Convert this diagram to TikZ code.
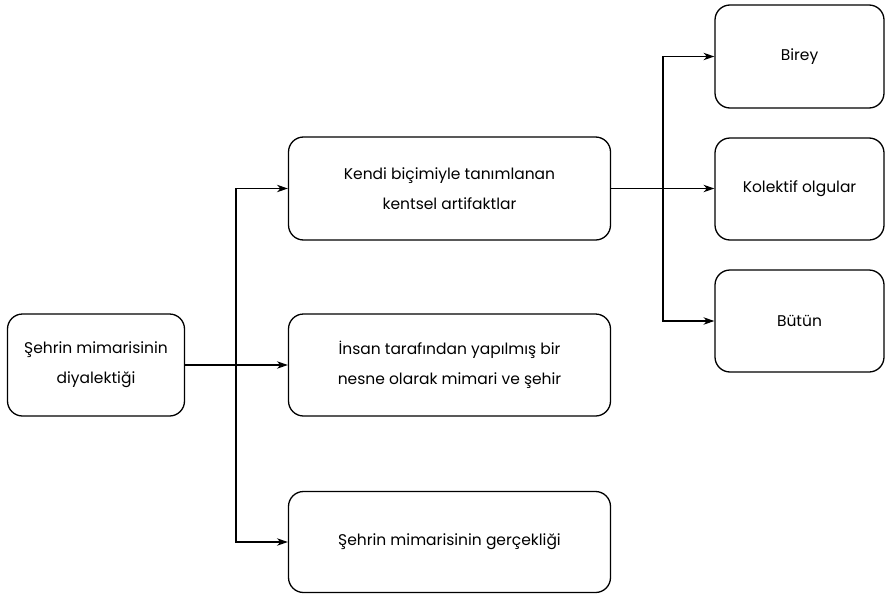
\documentclass[tikz,border=0pt]{standalone}
\usepackage{fontspec}
\setmainfont{Poppins}
\usetikzlibrary{arrows.meta}
\begin{document}
\begin{tikzpicture}[x=1pt,y=-1pt,
  box/.style={draw, line width=1.3pt, rounded corners=15pt, align=center,
    inner sep=0pt, font=\fontsize{15.5}{30}\selectfont},
  link/.style={line width=1.1pt, -{Stealth[length=11pt,width=7.5pt]}}]
  \useasboundingbox (0,0) rectangle (885,594);
  % root
  \node[box, minimum width=177pt, minimum height=102pt] (root) at (96,365)
    {Şehrin mimarisinin\\diyalektiği};
  % middle column
  \node[box, minimum width=322pt, minimum height=103pt] (m1) at (449.5,188.5)
    {Kendi biçimiyle tanımlanan\\kentsel artifaktlar};
  \node[box, minimum width=322pt, minimum height=102pt] (m2) at (449.5,365)
    {İnsan tarafından yapılmış bir\\nesne olarak mimari ve şehir};
  \node[box, minimum width=322pt, minimum height=101pt] (m3) at (449.5,542)
    {Şehrin mimarisinin gerçekliği};
  % right column
  \node[box, minimum width=169pt, minimum height=103pt] (r1) at (799.5,56.5) {Birey};
  \node[box, minimum width=169pt, minimum height=102pt] (r2) at (799.5,189) {Kolektif olgular};
  \node[box, minimum width=169pt, minimum height=102pt] (r3) at (799.5,321) {Bütün};
  % branch points
  \coordinate (j1) at (236,365);
  \coordinate (j2) at (663,188.5);
  % connectors from root
  \draw[link] (root.east) -- (m2.west);
  \draw[link] (j1) |- (m1.west);
  \draw[link] (j1) |- (m3.west);
  % connectors from the first middle box
  \draw[link] (m1.east) -- (r2.west |- m1.east);
  \draw[link] (j2) |- (r1.west);
  \draw[link] (j2) |- (r3.west);
\end{tikzpicture}
\end{document}
